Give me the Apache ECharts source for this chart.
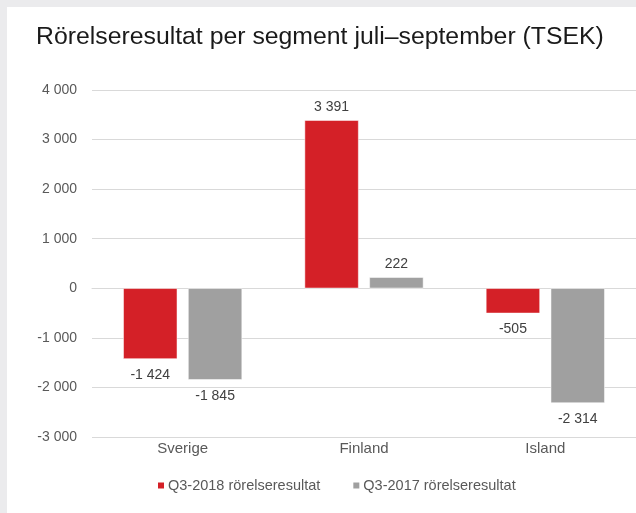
<!DOCTYPE html>
<html><head><meta charset="utf-8">
<script src="https://cdn.jsdelivr.net/npm/echarts@6/dist/echarts.min.js"></script>
<style>html,body{margin:0;padding:0;background:#ebebed}#c{width:636px;height:513px}</style>
</head><body><div id="c"></div>
<script>
const titleText = 'Rörelseresultat per segment juli–september (TSEK)';
const categories = ['Sverige', 'Finland', 'Island'];
const seriesNames = ['Q3-2018 rörelseresultat', 'Q3-2017 rörelseresultat'];
const q32018 = [-1424, 3391, -505];
const q32017 = [-1845, 222, -2314];
const yTicks = { min: -3000, max: 4000, interval: 1000 };

function fmt(v) {
  const s = Math.abs(v).toString().replace(/\B(?=(\d{3})+(?!\d))/g, ' ');
  return (v < 0 ? '-' : '') + s;
}
function toData(arr) {
  return arr.map(v => ({ value: v, label: { position: v >= 0 ? 'top' : 'bottom', distance: v >= 0 ? 6 : 9 } }));
}
const font = '"Liberation Sans", Arial, sans-serif';
const chart = echarts.init(document.getElementById('c'), null, { renderer: 'canvas' });
chart.setOption({
  backgroundColor: 'transparent',
  animation: false,
  textStyle: { fontFamily: font },
  graphic: [{ type: 'rect', z: -10, silent: true, shape: { x: 7, y: 7, width: 640, height: 520 }, style: { fill: '#ffffff' } }],
  title: { text: titleText, left: 31, top: 20, textStyle: { fontFamily: font, fontSize: 24.8, fontWeight: 'normal', color: '#1a1a1a' } },
  legend: {
    left: 151, top: 473, itemWidth: 8, itemHeight: 8, itemGap: 31, icon: 'rect',
    textStyle: { fontFamily: font, fontSize: 14.5, color: '#595959', padding: [0, 0, 0, -2] },
    data: seriesNames
  },
  grid: { left: 92, right: -2, top: 90, bottom: 76, containLabel: false },
  xAxis: {
    type: 'category', data: categories,
    axisLine: { show: true, lineStyle: { color: '#d9d9d9' } },
    axisTick: { show: false },
    axisLabel: { color: '#595959', fontSize: 15, margin: 4, fontFamily: font }
  },
  yAxis: {
    type: 'value', min: yTicks.min, max: yTicks.max, interval: yTicks.interval,
    axisLine: { show: false }, axisTick: { show: false },
    splitLine: { lineStyle: { color: '#d9d9d9' } },
    axisLabel: { color: '#595959', fontSize: 14, margin: 15, formatter: fmt, fontFamily: font }
  },
  series: [
    { name: seriesNames[0], type: 'bar', data: toData(q32018), barWidth: 54, barGap: '20%',
      itemStyle: { color: '#d42027', borderColor: '#ffffff', borderWidth: 0.5 },
      label: { show: true, formatter: p => fmt(p.value), color: '#404040', fontSize: 14, fontFamily: font } },
    { name: seriesNames[1], type: 'bar', data: toData(q32017), barWidth: 54,
      itemStyle: { color: '#a0a0a0', borderColor: '#ffffff', borderWidth: 0.5 },
      label: { show: true, formatter: p => fmt(p.value), color: '#404040', fontSize: 14, fontFamily: font } }
  ]
});
</script></body></html>
